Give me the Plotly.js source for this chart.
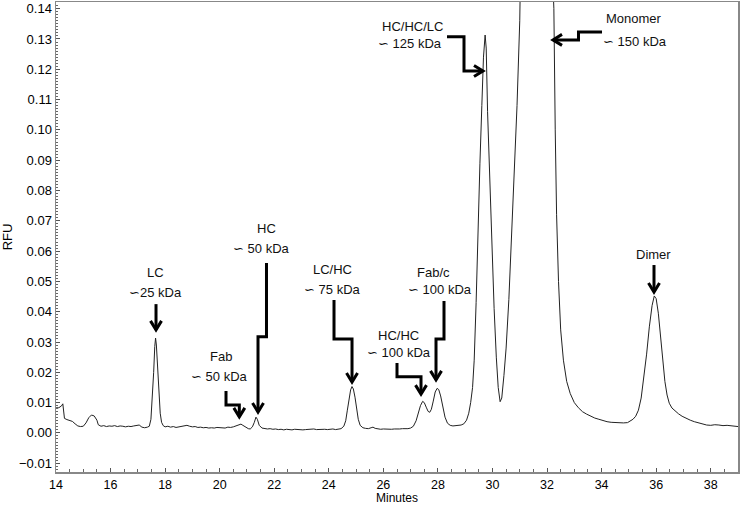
<!DOCTYPE html>
<html>
<head>
<meta charset="utf-8">
<script src="https://cdn.plot.ly/plotly-3.0.1.min.js"></script>
<style>html,body{margin:0;padding:0;background:#fff;}#chart{width:740px;height:505px;}</style>
</head>
<body>
<div id="chart"></div>
<script>
// Electropherogram trace (minutes, RFU)
const minutes = [
14.00,14.05,14.10,14.15,14.20,14.25,14.28,14.31,14.40,14.50,14.60,14.70,14.80,14.90,15.00,15.10,15.20,15.30,15.40,15.50,
15.55,15.65,15.75,15.85,15.95,16.05,16.15,16.25,16.35,16.45,16.55,16.65,16.75,16.85,16.95,17.05,17.15,17.25,17.35,17.42,
17.48,17.53,17.58,17.62,17.65,17.68,17.72,17.77,17.82,17.87,17.93,18.00,18.10,18.20,18.30,18.40,18.50,18.60,18.70,18.80,
18.90,19.00,19.10,19.20,19.30,19.40,19.50,19.60,19.70,19.80,19.90,20.00,20.10,20.20,20.30,20.40,20.50,20.60,20.70,20.78,
20.85,20.95,21.05,21.12,21.20,21.27,21.33,21.38,21.45,21.55,21.65,21.75,21.85,21.95,22.05,22.15,22.25,22.35,22.45,22.55,
22.65,22.75,22.85,22.95,23.05,23.15,23.25,23.35,23.45,23.55,23.65,23.75,23.85,23.95,24.05,24.15,24.25,24.35,24.45,24.55,
24.62,24.68,24.74,24.80,24.85,24.90,24.96,25.02,25.08,25.15,25.25,25.35,25.45,25.55,25.62,25.70,25.80,25.90,26.00,26.10,
26.20,26.30,26.40,26.50,26.60,26.70,26.80,26.90,27.00,27.10,27.20,27.28,27.36,27.44,27.50,27.57,27.64,27.70,27.76,27.83,
27.90,27.97,28.03,28.10,28.18,28.26,28.35,28.45,28.55,28.65,28.75,28.85,28.95,29.05,29.13,29.20,29.27,29.33,29.40,29.47,
29.54,29.61,29.67,29.73,29.77,29.82,29.90,29.98,30.06,30.14,30.21,30.28,30.34,30.42,30.50,30.60,30.70,30.80,30.90,31.00,
31.10,31.60,32.15,32.25,32.30,32.35,32.42,32.50,32.60,32.72,32.85,33.00,33.15,33.30,33.45,33.60,33.75,33.90,34.05,34.20,
34.35,34.50,34.65,34.80,34.95,35.05,35.15,35.25,35.35,35.45,35.55,35.65,35.75,35.85,35.93,36.00,36.08,36.16,36.24,36.32,
36.40,36.48,36.58,36.70,36.82,36.95,37.10,37.25,37.40,37.55,37.70,37.85,38.00,38.15,38.30,38.45,38.60,38.75,38.90,39.00
];
const rfu = [
0.0082,0.0084,0.0083,0.0086,0.0089,0.0096,0.0070,0.0048,0.0044,0.0041,0.0038,0.0030,0.0023,0.0021,0.0022,0.0033,0.0050,0.0059,0.0056,0.0042,
0.0027,0.0022,0.0024,0.0021,0.0023,0.0022,0.0024,0.0021,0.0023,0.0022,0.0020,0.0022,0.0021,0.0023,0.0024,0.0026,0.0019,0.0017,0.0019,0.0022,
0.0045,0.0110,0.0200,0.0285,0.0313,0.0290,0.0220,0.0130,0.0065,0.0035,0.0024,0.0020,0.0022,0.0019,0.0021,0.0018,0.0020,0.0021,0.0023,0.0025,
0.0022,0.0020,0.0021,0.0018,0.0019,0.0017,0.0018,0.0016,0.0017,0.0016,0.0018,0.0017,0.0015,0.0016,0.0019,0.0018,0.0020,0.0024,0.0028,0.0029,
0.0025,0.0018,0.0014,0.0013,0.0020,0.0035,0.0052,0.0045,0.0025,0.0016,0.0014,0.0013,0.0014,0.0012,0.0013,0.0011,0.0012,0.0010,0.0012,0.0011,
0.0010,0.0012,0.0011,0.0012,0.0010,0.0011,0.0012,0.0011,0.0013,0.0011,0.0012,0.0013,0.0012,0.0011,0.0012,0.0013,0.0011,0.0012,0.0014,0.0022,
0.0040,0.0075,0.0115,0.0142,0.0153,0.0145,0.0118,0.0080,0.0045,0.0025,0.0017,0.0015,0.0014,0.0017,0.0019,0.0015,0.0013,0.0012,0.0013,0.0012,
0.0011,0.0012,0.0013,0.0012,0.0013,0.0014,0.0013,0.0014,0.0016,0.0022,0.0040,0.0065,0.0090,0.0104,0.0100,0.0085,0.0071,0.0068,0.0078,0.0105,
0.0135,0.0147,0.0143,0.0122,0.0085,0.0052,0.0032,0.0025,0.0023,0.0024,0.0023,0.0026,0.0030,0.0042,0.0065,0.0100,0.0150,0.0240,0.0430,0.0680,
0.0890,0.1080,0.1240,0.1313,0.1270,0.1060,0.0820,0.0600,0.0410,0.0250,0.0150,0.0103,0.0115,0.0190,0.0280,0.0440,0.0640,0.0840,0.1080,0.1360,
0.1650,0.5000,0.1650,0.1400,0.1000,0.0720,0.0500,0.0340,0.0240,0.0170,0.0130,0.0100,0.0083,0.0070,0.0062,0.0055,0.0049,0.0045,0.0040,0.0037,
0.0035,0.0034,0.0032,0.0033,0.0034,0.0039,0.0045,0.0055,0.0075,0.0115,0.0180,0.0260,0.0350,0.0420,0.0452,0.0443,0.0395,0.0320,0.0240,0.0170,
0.0125,0.0098,0.0082,0.0072,0.0063,0.0055,0.0048,0.0042,0.0037,0.0033,0.0028,0.0026,0.0025,0.0027,0.0026,0.0024,0.0025,0.0023,0.0022,0.0021
];

// Peak labels (two lines each) and their anchors in data units
const peakNames  = ['LC', 'Fab', 'HC', 'LC/HC', 'HC/HC', 'Fab/c', 'HC/HC/LC', 'Monomer', 'Dimer'];
const peakMasses = ['\u223D25 kDa', '\u223D 50 kDa', '\u223D 50 kDa', '\u223D 75 kDa', '\u223D 100 kDa', '\u223D 100 kDa', '\u223D 125 kDa', '\u223D 150 kDa', ''];
const nameX = [17.63, 20.05, 21.70, 24.15, 26.54, 27.82, 27.05, 35.19, 35.92];
const nameY = [0.0531, 0.0251, 0.0676, 0.0538, 0.0320, 0.0528, 0.1340, 0.1369, 0.0590];
const massX = [17.63, 20.01, 21.52, 24.15, 26.57, 28.08, 26.98, 35.23, 0];
const massY = [0.0465, 0.0185, 0.0610, 0.0472, 0.0264, 0.0472, 0.1284, 0.1293, 0];

// Arrow polylines (minutes, RFU); last point is the tip
const arrowPaths = [
  [[17.666,0.0425],[17.666,0.0340]],
  [[20.232,0.0138],[20.232,0.0092],[20.72,0.0092],[20.72,0.0053]],
  [[21.716,0.0561],[21.716,0.0317],[21.405,0.0317],[21.405,0.0069]],
  [[24.191,0.0439],[24.191,0.0310],[24.851,0.0310],[24.851,0.0168]],
  [[26.50,0.0231],[26.50,0.0185],[27.38,0.0185],[27.38,0.0128]],
  [[28.223,0.0435],[28.223,0.0310],[27.93,0.0310],[27.93,0.0175]],
  [[28.333,0.1307],[28.956,0.1307],[28.956,0.1194],[29.652,0.1194]],
  [[34.015,0.1323],[33.153,0.1323],[33.153,0.1297],[32.219,0.1297]],
  [[35.921,0.0554],[35.921,0.0465]]
];

const X0 = 14, X1 = 39, Y0 = -0.0129, Y1 = 0.1422;
const ML = 56, MR = 2, MT = 2, MB = 33, W = 740, H = 505;
const pxX = (X1 - X0) / (W - ML - MR);   // minutes per pixel
const pxY = (Y1 - Y0) / (H - MT - MB);   // RFU per pixel

const shapes = [];
arrowPaths.forEach(p => {
  let d = 'M' + p.map(q => q[0] + ',' + q[1]).join('L');
  shapes.push({type:'path', xref:'x', yref:'y', path:d, line:{color:'#000', width:3}});
  const tip = p[p.length-1], prev = p[p.length-2];
  let ux = (tip[0]-prev[0])/pxX, uy = (tip[1]-prev[1])/pxY;
  const len = Math.hypot(ux, uy); ux/=len; uy/=len;
  const back = 9, half = 5.5;
  const bx = -ux*back, by = -uy*back;
  const nx = -uy*half, ny = ux*half;
  const a = [tip[0] + (bx+nx)*pxX, tip[1] + (by+ny)*pxY];
  const b = [tip[0] + (bx-nx)*pxX, tip[1] + (by-ny)*pxY];
  shapes.push({type:'path', xref:'x', yref:'y',
    path:'M'+a[0]+','+a[1]+'L'+tip[0]+','+tip[1]+'L'+b[0]+','+b[1],
    line:{color:'#000', width:3}});
});

const textFont = {family:'Liberation Sans, Arial, sans-serif', size:13, color:'#111'};
const annotations = [];
peakNames.forEach((n,i) => {
  annotations.push({x:nameX[i], y:nameY[i], xref:'x', yref:'y', text:n, showarrow:false, font:textFont, xanchor:'center', yanchor:'middle'});
  if (peakMasses[i]) annotations.push({x:massX[i], y:massY[i], xref:'x', yref:'y', text:peakMasses[i], showarrow:false, font:textFont, xanchor:'center', yanchor:'middle'});
});

const trace = {x:minutes, y:rfu, type:'scatter', mode:'lines', line:{color:'#222', width:1}, hoverinfo:'skip'};

const fam = 'Liberation Sans, Arial, sans-serif';
const layout = {
  width:W, height:H,
  margin:{l:ML, r:MR, t:MT, b:MB},
  paper_bgcolor:'#fff', plot_bgcolor:'#fff',
  showlegend:false,
  xaxis:{range:[X0,X1], tick0:14, dtick:2, ticks:'inside', ticklen:4, tickcolor:'#555',
    showline:true, linecolor:'#888', linewidth:1.5, mirror:true, showgrid:false, zeroline:false,
    tickfont:{family:fam, size:12.5, color:'#000'}, minor:{dtick:0.5, ticks:'inside', ticklen:3, tickcolor:'#666'},
    title:{text:'Minutes', font:{family:fam, size:12, color:'#000'}, standoff:4}},
  yaxis:{range:[Y0,Y1], tick0:0, dtick:0.01, tickformat:'.2f', ticks:'inside', ticklen:4, tickcolor:'#555',
    showline:true, linecolor:'#888', linewidth:1.5, mirror:true, showgrid:false, zeroline:false,
    tickfont:{family:fam, size:13, color:'#000'}, minor:{dtick:0.001, ticks:'inside', ticklen:2, tickcolor:'#666'},
    title:{text:'RFU', font:{family:fam, size:13, color:'#000'}, standoff:6}},
  shapes:shapes,
  annotations:annotations
};

Plotly.newPlot('chart', [trace], layout, {staticPlot:true, displayModeBar:false});
</script>
</body>
</html>
